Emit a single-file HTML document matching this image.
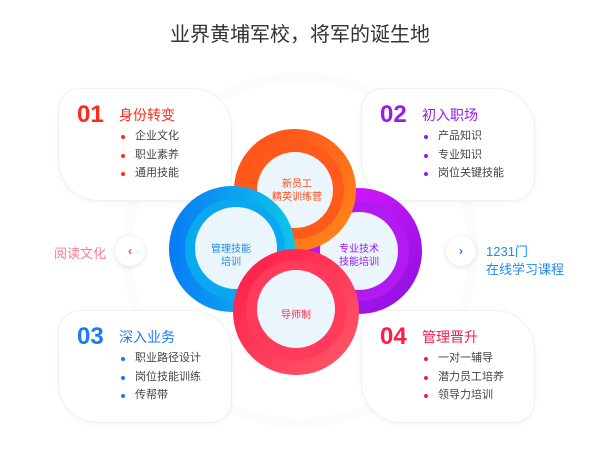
<!DOCTYPE html>
<html><head><meta charset="utf-8"><style>
body{margin:0;width:600px;height:450px;background:#fff;position:relative;overflow:hidden;font-family:"Liberation Sans","Noto Sans CJK SC",sans-serif}
.t{position:absolute;left:0;width:600px;top:18px;text-align:center;font-size:20px;color:#333}
.card{position:absolute;width:172px;height:111px;background:#fff;border:1px solid #f0f0f0;border-radius:22px 40px 22px 40px;box-shadow:0 2px 6px rgba(0,0,0,0.04)}
.num{position:absolute;left:18px;top:12px;font-size:24px;font-weight:bold}
.h{position:absolute;left:60px;top:16px;font-size:14px}
ul{position:absolute;left:60px;top:38px;margin:0;padding:0;list-style:none}
li{font-size:11px;color:#444;height:18.5px;line-height:18.5px;padding-left:16px;position:relative}
li:before{content:"";position:absolute;left:2px;top:8px;width:4px;height:4px;border-radius:2px;background:var(--c)}
.btn{position:absolute;width:30px;height:30px;border-radius:15px;background:#fff;box-shadow:0 1px 6px rgba(0,0,0,0.12);text-align:center;line-height:30px;font-size:12px;font-weight:bold}
</style></head><body>
<svg width="600" height="450" style="position:absolute;left:0;top:0">
<circle cx="300" cy="250" r="178" fill="#fcfcfc"/>
<circle cx="300" cy="250" r="168" fill="#fff"/>
</svg>
<div class="t">业界黄埔军校，将军的诞生地</div>
<div class="card" style="left:58px;top:88px;--c:#ff2a1a"><div class="num" style="color:#ff2a1a">01</div><div class="h" style="color:#ff2a1a">身份转变</div><ul><li>企业文化</li><li>职业素养</li><li>通用技能</li></ul></div>
<div class="card" style="left:361px;top:88px;--c:#9a1ae8"><div class="num" style="color:#9a1ae8">02</div><div class="h" style="color:#9a1ae8">初入职场</div><ul><li>产品知识</li><li>专业知识</li><li>岗位关键技能</li></ul></div>
<div class="card" style="left:58px;top:310px;--c:#1a7af5"><div class="num" style="color:#1a7af5">03</div><div class="h" style="color:#1a7af5">深入业务</div><ul><li>职业路径设计</li><li>岗位技能训练</li><li>传帮带</li></ul></div>
<div class="card" style="left:361px;top:310px;--c:#ff1a4a"><div class="num" style="color:#ff1a4a">04</div><div class="h" style="color:#ff1a4a">管理晋升</div><ul><li>一对一辅导</li><li>潜力员工培养</li><li>领导力培训</li></ul></div>
<svg width="600" height="450" style="position:absolute;left:0;top:0">
<defs>
<linearGradient id="go" x1="0" y1="0" x2="1" y2="1"><stop offset="0" stop-color="#ff4a1a"/><stop offset="1" stop-color="#ff8a1a"/></linearGradient>
<linearGradient id="gp" x1="0" y1="0" x2="1" y2="1"><stop offset="0" stop-color="#e21aff"/><stop offset="1" stop-color="#8a10e0"/></linearGradient>
<linearGradient id="gb" x1="0" y1="0" x2="1" y2="0"><stop offset="0" stop-color="#0a7af5"/><stop offset="1" stop-color="#0cc6ea"/></linearGradient>
<linearGradient id="gr" x1="0" y1="0" x2="1" y2="1"><stop offset="0" stop-color="#ff1a4a"/><stop offset="1" stop-color="#ff5a6a"/></linearGradient>
</defs>
<g><circle cx="359" cy="251" r="63" fill="url(#gp)"/><circle cx="359" cy="251" r="50" fill="#b21af0"/><circle cx="359" cy="251" r="39" fill="#eaf6fb"/></g>
<g><circle cx="295" cy="190" r="61" fill="url(#go)"/><circle cx="295" cy="190" r="49" fill="#ff5a1a"/><circle cx="295" cy="190" r="38" fill="#eaf6fb"/></g>
<g><circle cx="232" cy="249" r="63" fill="url(#gb)"/><circle cx="235" cy="249" r="50" fill="#0aa8f0"/><circle cx="236" cy="248" r="41" fill="#eaf6fb"/></g>
<g><circle cx="296" cy="312" r="63" fill="url(#gr)"/><circle cx="296" cy="310" r="50" fill="#ff3a5a"/><circle cx="296" cy="309" r="39" fill="#eaf6fb"/></g>
<g font-size="10" text-anchor="middle" font-family="Liberation Sans,Noto Sans CJK SC,sans-serif">
<text x="297" y="187" fill="#ff4a1a">新员工</text><text x="297" y="200" fill="#ff4a1a">精英训练营</text>
<text x="231" y="252" fill="#1a8af5">管理技能</text><text x="231" y="265" fill="#1a8af5">培训</text>
<text x="359" y="252" fill="#9a1ae8">专业技术</text><text x="359" y="265" fill="#9a1ae8">技能培训</text>
<text x="296" y="318" fill="#ff2a4a">导师制</text>
</g>
</svg>
<div class="btn" style="left:115px;top:236px;color:#ff4a6a">‹</div>
<div class="btn" style="left:446px;top:236px;color:#1a7af5">›</div>
<div style="position:absolute;left:54px;top:243px;font-size:13px;color:#ff7a8a">阅读文化</div>
<div style="position:absolute;left:486px;top:243px;font-size:13px;color:#1a8af5;line-height:18px">1231门<br>在线学习课程</div>
</body></html>
